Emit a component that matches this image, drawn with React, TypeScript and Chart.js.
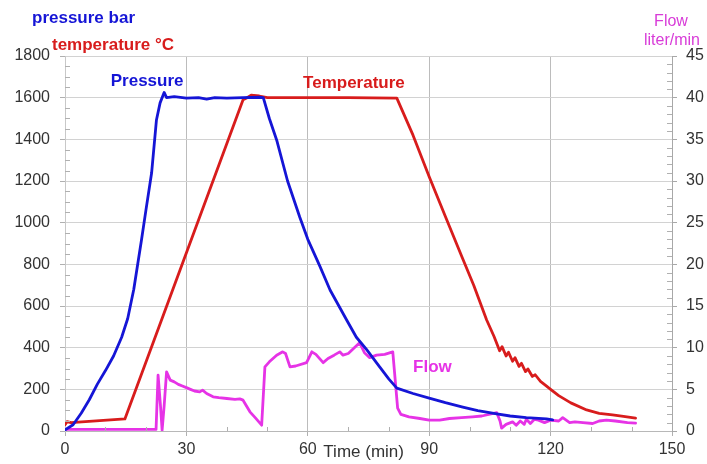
import React, { useEffect, useRef } from "react";
import { Chart, registerables } from "chart.js";

Chart.register(...registerables);

// ---- data ----
const pressureTime = [0, 2, 4, 6, 8, 10, 12, 14, 15.5, 17, 18.9, 20, 21.4, 22.6, 23.5, 24.5, 25.1, 27, 30, 33, 35, 37, 40, 44, 48, 49, 50.5, 52.3, 55, 58, 60, 63, 65.5, 69.6, 72, 74.6, 77.8, 80, 82, 86, 90, 94, 98.3, 102, 106.7, 110, 114, 119, 120.5];
const pressureBar = [5, 30, 85, 150, 225, 290, 360, 450, 540, 680, 917, 1060, 1238, 1493, 1575, 1625, 1600, 1605, 1598, 1600, 1593, 1600, 1598, 1600, 1602, 1600, 1500, 1397, 1200, 1027, 920, 790, 677, 533, 450, 389, 307, 250, 206, 180, 158, 136, 115, 98, 82, 72, 64, 58, 53];

const temperatureTime = [0, 0.5, 1.5, 14.8, 44, 45, 46, 48, 50, 60, 70, 82, 86, 90, 94, 98, 101, 104.2, 106, 107.4, 108, 109, 109.6, 110.6, 111.2, 112.2, 112.8, 113.8, 114.4, 115.5, 116.2, 117.5, 119, 120, 122, 125, 128.9, 132, 135.3, 138, 141];
const temperatureC = [30, 45, 40, 58, 1590, 1600, 1612, 1608, 1600, 1600, 1600, 1598, 1420, 1220, 1030, 840, 700, 533, 455, 385, 405, 360, 378, 335, 352, 310, 325, 285, 298, 262, 270, 238, 215, 200, 170, 135, 101, 85, 77, 70, 62];

const flowTime = [0, 22.5, 23, 23.6, 24, 24.5, 25.1, 26, 27, 28, 29, 30, 31, 32, 33.3, 34, 35, 36.6, 38, 40, 42, 43.2, 44, 45.7, 47, 48.6, 49.4, 50.5, 52.3, 53.8, 54.5, 55.6, 57, 59.7, 61, 62, 63.8, 65, 66.5, 67.9, 68.7, 70, 71.5, 72.8, 74, 75.3, 77, 79, 81, 82.2, 83, 85, 87.7, 90, 92.6, 95, 98, 100.7, 103, 106.7, 107.5, 107.9, 109, 110.6, 111.5, 112.5, 113.5, 114, 115, 116, 117, 118.5, 120, 122, 123, 124.7, 126, 128, 130.4, 132, 133.8, 136, 139, 141];
const flowLpm = [0.2, 0.2, 6.7, 3, 0.1, 3, 7.1, 6.1, 5.9, 5.6, 5.4, 5.2, 5.0, 4.8, 4.7, 4.9, 4.5, 4.1, 4.0, 3.9, 3.8, 3.85, 3.7, 2.3, 1.6, 0.7, 7.7, 8.3, 9.1, 9.5, 9.3, 7.7, 7.8, 8.2, 9.5, 9.2, 8.2, 8.7, 9.1, 9.5, 9.1, 9.3, 10.0, 10.6, 9.4, 8.8, 9.1, 9.2, 9.5, 2.75, 2.0, 1.7, 1.5, 1.3, 1.3, 1.5, 1.6, 1.7, 1.8, 2.2, 1.2, 0.35, 0.8, 1.1, 0.7, 1.2, 0.8, 1.4, 0.9, 1.4, 1.3, 1.0, 1.3, 1.2, 1.6, 1.0, 1.1, 1.0, 0.9, 1.2, 1.3, 1.2, 1.0, 0.95];

const timeRange = [0, 150];
const pressureRange = [0, 1800];
const flowRange = [0, 45];

const FONT = "'Liberation Sans', Arial, sans-serif";
const BLUE = "#1515d6";
const RED = "#d81c1c";
const MAGENTA = "#e633e6";

const pts = (xs: number[], ys: number[]) => xs.map((x, i) => ({ x, y: ys[i] }));
const plain = (v: any) => String(v);

const decor = {
  id: "decor",
  afterDraw(chart: any) {
    const ctx = chart.ctx as CanvasRenderingContext2D;
    const { x, y, y1 } = chart.scales;
    const ca = chart.chartArea;
    ctx.save();
    ctx.lineWidth = 1;
    ctx.strokeStyle = "#b0b0b0";
    // minor ticks
    for (let t = 10; t < 150; t += 10) {
      if (t % 30 === 0) continue;
      const px = Math.round(x.getPixelForValue(t)) + 0.5;
      ctx.beginPath();
      ctx.moveTo(px, ca.bottom);
      ctx.lineTo(px, ca.bottom - 4);
      ctx.stroke();
    }
    for (let v = 50; v < 1800; v += 50) {
      if (v % 200 === 0) continue;
      const py = Math.round(y.getPixelForValue(v)) + 0.5;
      ctx.beginPath();
      ctx.moveTo(ca.left, py);
      ctx.lineTo(ca.left + 5, py);
      ctx.stroke();
    }
    for (let v = 1; v < 45; v++) {
      if (v % 5 === 0) continue;
      const py = Math.round(y1.getPixelForValue(v)) + 0.5;
      ctx.beginPath();
      ctx.moveTo(ca.right - 5, py);
      ctx.lineTo(ca.right, py);
      ctx.stroke();
    }
    // texts
    ctx.textBaseline = "middle";
    ctx.textAlign = "left";
    ctx.font = `bold 17px ${FONT}`;
    ctx.fillStyle = BLUE;
    ctx.fillText("pressure bar", 32, 18);
    ctx.fillStyle = RED;
    ctx.fillText("temperature °C", 52, 45);

    ctx.textAlign = "center";
    ctx.font = `16px ${FONT}`;
    ctx.fillStyle = "#d83cd8";
    ctx.fillText("Flow", 671, 22);
    ctx.fillText("liter/min", 672, 41);

    ctx.font = `bold 17px ${FONT}`;
    ctx.fillStyle = BLUE;
    ctx.fillText("Pressure", x.getPixelForValue(20.3), y.getPixelForValue(1680));
    ctx.fillStyle = RED;
    ctx.fillText("Temperature", x.getPixelForValue(71.4), y.getPixelForValue(1670));
    ctx.fillStyle = MAGENTA;
    ctx.fillText("Flow", x.getPixelForValue(90.8), y1.getPixelForValue(7.7));

    ctx.font = `17px ${FONT}`;
    ctx.fillStyle = "#333333";
    ctx.fillText("Time (min)", x.getPixelForValue(73.8), ca.bottom + 21);
    ctx.restore();
  },
};

export default function App() {
  const ref = useRef<HTMLCanvasElement | null>(null);
  useEffect(() => {
    document.body.style.margin = "0";
    const canvas = ref.current!;
    const chart = new Chart(canvas, {
      type: "line",
      data: {
        datasets: [
          {
            label: "Pressure",
            data: pts(pressureTime, pressureBar),
            borderColor: BLUE,
            borderWidth: 2.8,
            pointRadius: 0,
            yAxisID: "y",
            order: 0,
          },
          {
            label: "Flow",
            data: pts(flowTime, flowLpm),
            borderColor: MAGENTA,
            borderWidth: 2.8,
            pointRadius: 0,
            yAxisID: "y1",
            order: 1,
          },
          {
            label: "Temperature",
            data: pts(temperatureTime, temperatureC),
            borderColor: RED,
            borderWidth: 2.8,
            pointRadius: 0,
            yAxisID: "y",
            order: 2,
          },
        ],
      },
      options: {
        responsive: false,
        animation: false,
        events: [],
        layout: { padding: { top: 56, left: 0, right: 0, bottom: 0 } },
        elements: { line: { tension: 0, borderJoinStyle: "round", borderCapStyle: "round" } },
        plugins: { legend: { display: false }, tooltip: { enabled: false }, title: { display: false } },
        scales: {
          x: {
            type: "linear",
            position: "bottom",
            min: timeRange[0],
            max: timeRange[1],
            ticks: { stepSize: 30, color: "#333", font: { family: FONT, size: 16 }, padding: 4, maxRotation: 0, callback: plain },
            grid: { color: "#bcbcbc", tickLength: 5, tickColor: "#b0b0b0" },
            border: { color: "#b8b8b8" },
            afterFit: (s: any) => { s.height = 33; },
          },
          y: {
            type: "linear",
            position: "left",
            min: pressureRange[0],
            max: pressureRange[1],
            ticks: { stepSize: 200, color: "#333", font: { family: FONT, size: 16 }, padding: 10, callback: plain },
            grid: { color: "#d2d2d2", tickLength: 5, tickColor: "#b0b0b0" },
            border: { color: "#c8c8c8" },
            afterFit: (s: any) => { s.width = 65; },
          },
          y1: {
            type: "linear",
            position: "right",
            min: flowRange[0],
            max: flowRange[1],
            ticks: { stepSize: 5, color: "#333", font: { family: FONT, size: 16 }, padding: 9, callback: plain },
            grid: { drawOnChartArea: false, tickLength: 5, tickColor: "#a8a8a8" },
            border: { color: "#a8a8a8" },
            afterFit: (s: any) => { s.width = 35; },
          },
        },
      },
      plugins: [decor],
    } as any);
    return () => chart.destroy();
  }, []);
  return (
    <div style={{ width: 707, height: 464, background: "#fff" }}>
      <canvas ref={ref} width={707} height={464} style={{ display: "block" }} />
    </div>
  );
}
